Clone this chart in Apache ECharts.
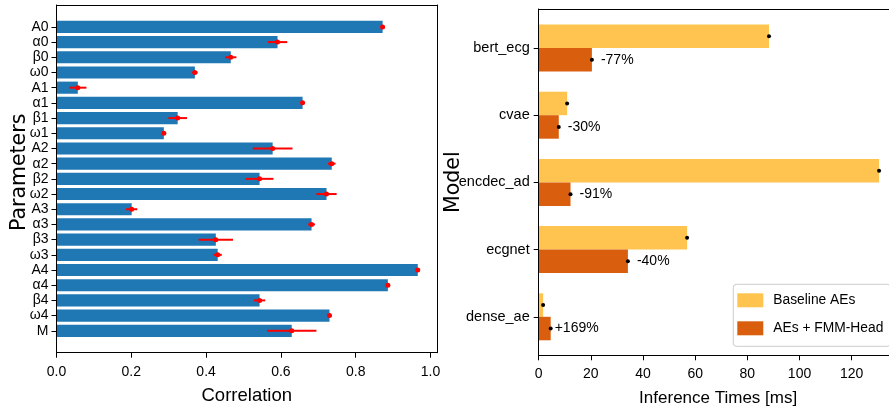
<!DOCTYPE html>
<html>
<head>
<meta charset="utf-8">
<script src="https://cdn.jsdelivr.net/npm/echarts@6/dist/echarts.min.js"></script>
<style>
  html, body { margin: 0; padding: 0; background: #fff; }
  #chart { width: 889px; height: 414px; }
</style>
</head>
<body>
<div id="chart"></div>
<script>
// left panel: correlation per parameter
const params = ["A0", "α0", "β0", "ω0", "A1", "α1", "β1", "ω1", "A2", "α2", "β2", "ω2",
                "A3", "α3", "β3", "ω3", "A4", "α4", "β4", "ω4", "M"];
const corr = [0.872, 0.591, 0.466, 0.370, 0.057, 0.658, 0.324, 0.287, 0.578, 0.736, 0.543, 0.722,
              0.201, 0.682, 0.426, 0.431, 0.966, 0.886, 0.543, 0.730, 0.629];
const corrErr = [0.002, 0.026, 0.015, 0.007, 0.023, 0.002, 0.025, 0.005, 0.053, 0.010, 0.037, 0.027,
                 0.015, 0.009, 0.046, 0.011, 0.002, 0.002, 0.015, 0.002, 0.066];
const corrTicks = [0, 0.2, 0.4, 0.6, 0.8, 1.0];

// right panel: inference times
const models = ["bert_ecg", "cvae", "encdec_ad", "ecgnet", "dense_ae"];
const baseline = [88.3, 10.9, 130.5, 56.9, 1.7];
const fmmHead = [20.4, 7.7, 12.2, 34.2, 4.6];
const changeLabels = ["-77%", "-30%", "-91%", "-40%", "+169%"];
const timeTicks = [0, 20, 40, 60, 80, 100, 120];

const FONT = "'Liberation Sans', Arial, sans-serif";
const BAR_W = 23.5; // px, right panel bar thickness

const chart = echarts.init(document.getElementById("chart"));

// frame axis (only a line) helper
function frameLine(gridIndex, position, min, max) {
  return {
    gridIndex: gridIndex, type: "value", position: position, min: min, max: max, z: 10,
    axisLine: { show: true, onZero: false, lineStyle: { color: "#000", width: 1 } },
    axisTick: { show: false }, axisLabel: { show: false }, splitLine: { show: false },
  };
}

const option = {
  animation: false,
  backgroundColor: "#fff",
  grid: [
    { left: 56.5, top: 19.3, width: 380.5, height: 319.1, outerBoundsMode: "none" },
    { left: 56.5, top: 5, width: 380.5, height: 347.7, outerBoundsMode: "none" },
    { left: 538.7, top: 14.4, width: 358.9, height: 336, outerBoundsMode: "none" },
    { left: 538.7, top: 9, width: 358.9, height: 346.3, outerBoundsMode: "none" },
  ],
  legend: {
    orient: "vertical",
    left: 733.3,
    top: 284.3,
    padding: [9, 7, 11, 4],
    itemWidth: 26,
    itemHeight: 14,
    itemGap: 14,
    icon: "rect",
    borderColor: "#ccc",
    borderWidth: 1,
    borderRadius: 3,
    backgroundColor: "rgba(255,255,255,0.8)",
    textStyle: { fontFamily: FONT, fontSize: 13.8, color: "#000", padding: [0, 0, 0, 5] },
    data: ["Baseline AEs", "AEs + FMM-Head"],
  },
  xAxis: [
    { gridIndex: 0, type: "value", min: 0, max: 1.0174, show: false },
    {
      gridIndex: 1, type: "value", position: "bottom", min: 0, max: 1.0174, z: 10,
      axisLine: { show: true, onZero: false, lineStyle: { color: "#000", width: 1 } },
      axisTick: { show: true, length: 5, customValues: corrTicks, lineStyle: { color: "#000" } },
      axisLabel: {
        customValues: corrTicks, margin: 12, color: "#000", fontFamily: FONT, fontSize: 14,
        formatter: (v) => v.toFixed(1),
      },
      splitLine: { show: false },
      name: "Correlation", nameLocation: "middle", nameGap: 34,
      nameTextStyle: { fontFamily: FONT, fontSize: 18.5, color: "#000" },
    },
    frameLine(1, "top", 0, 1.0174),
    { gridIndex: 2, type: "value", min: 0, max: 137.6, show: false },
    {
      gridIndex: 3, type: "value", position: "bottom", min: 0, max: 137.6, z: 10,
      axisLine: { show: true, onZero: false, lineStyle: { color: "#000", width: 1 } },
      axisTick: { show: true, length: 5, customValues: timeTicks, lineStyle: { color: "#000" } },
      axisLabel: { customValues: timeTicks, margin: 12, color: "#000", fontFamily: FONT, fontSize: 14 },
      splitLine: { show: false },
      name: "Inference Times [ms]", nameLocation: "middle", nameGap: 35,
      nameTextStyle: { fontFamily: FONT, fontSize: 17, color: "#000" },
    },
    frameLine(3, "top", 0, 137.6),
  ],
  yAxis: [
    {
      gridIndex: 0, type: "category", data: params, inverse: true,
      axisLine: { show: false },
      axisTick: { show: true, alignWithLabel: true, length: 5, lineStyle: { color: "#000" } },
      axisLabel: { interval: 0, margin: 8, color: "#000", fontFamily: FONT, fontSize: 14 },
    },
    Object.assign(frameLine(1, "left", 0, 1), {
      name: "Parameters", nameLocation: "middle", nameRotate: 90, nameGap: 26,
      nameTextStyle: { fontFamily: "DejaVu Sans", fontSize: 20.5, color: "#000", padding: [0, 0, 0, 13] },
    }),
    frameLine(1, "right", 0, 1),
    {
      gridIndex: 2, type: "category", data: models, inverse: true,
      axisLine: { show: false },
      axisTick: { show: true, alignWithLabel: true, length: 5, lineStyle: { color: "#000" } },
      axisLabel: { interval: 0, margin: 9, color: "#000", fontFamily: FONT, fontSize: 14.5 },
    },
    Object.assign(frameLine(3, "left", 0, 1), {
      name: "Model", nameLocation: "middle", nameRotate: 90, nameGap: 75,
      nameTextStyle: { fontFamily: "DejaVu Sans", fontSize: 20.5, color: "#000" },
    }),
    frameLine(3, "right", 0, 1),
  ],
  series: [
    {
      type: "bar", xAxisIndex: 0, yAxisIndex: 0, data: corr,
      barWidth: "80%", itemStyle: { color: "#1f77b4" },
    },
    {
      type: "custom", xAxisIndex: 0, yAxisIndex: 0, z: 5,
      data: corr.map((v, i) => [v, i, corrErr[i]]),
      encode: { x: 0, y: 1 },
      renderItem: (p, api) => {
        const v = api.value(0), i = api.value(1), e = api.value(2);
        const lo = api.coord([v - e, i]), hi = api.coord([v + e, i]), c = api.coord([v, i]);
        return {
          type: "group",
          children: [
            { type: "line", shape: { x1: lo[0], y1: lo[1], x2: hi[0], y2: hi[1] },
              style: { stroke: "#ff0000", lineWidth: 2 } },
            { type: "circle", shape: { cx: c[0], cy: c[1], r: 2.5 }, style: { fill: "#ff0000" } },
          ],
        };
      },
    },
    {
      name: "Baseline AEs", type: "bar", xAxisIndex: 3, yAxisIndex: 3, data: baseline,
      barWidth: BAR_W, barGap: "0%", itemStyle: { color: "#fec44f" },
    },
    {
      name: "AEs + FMM-Head", type: "bar", xAxisIndex: 3, yAxisIndex: 3,
      data: fmmHead.map((v, i) => ({
        value: v,
        // the "+" annotation sits closer to its bar than the "-" ones
        label: { distance: changeLabels[i].startsWith("+") ? 4 : 9 },
      })),
      barWidth: BAR_W, barGap: "0%", itemStyle: { color: "#d95f0e" },
      label: {
        show: true, position: "right", color: "#000",
        fontFamily: FONT, fontSize: 14,
        formatter: (p) => changeLabels[p.dataIndex],
      },
    },
    {
      type: "custom", xAxisIndex: 3, yAxisIndex: 3, z: 5,
      data: models.map((m, i) => [baseline[i], i, fmmHead[i]]),
      encode: { x: 0, y: 1 },
      renderItem: (p, api) => {
        const i = api.value(1);
        const a = api.coord([api.value(0), i]), b = api.coord([api.value(2), i]);
        return {
          type: "group",
          children: [
            { type: "circle", shape: { cx: a[0], cy: a[1] - BAR_W / 2, r: 2 }, style: { fill: "#000" } },
            { type: "circle", shape: { cx: b[0], cy: b[1] + BAR_W / 2, r: 2 }, style: { fill: "#000" } },
          ],
        };
      },
    },
  ],
};

chart.setOption(option);
</script>
</body>
</html>
